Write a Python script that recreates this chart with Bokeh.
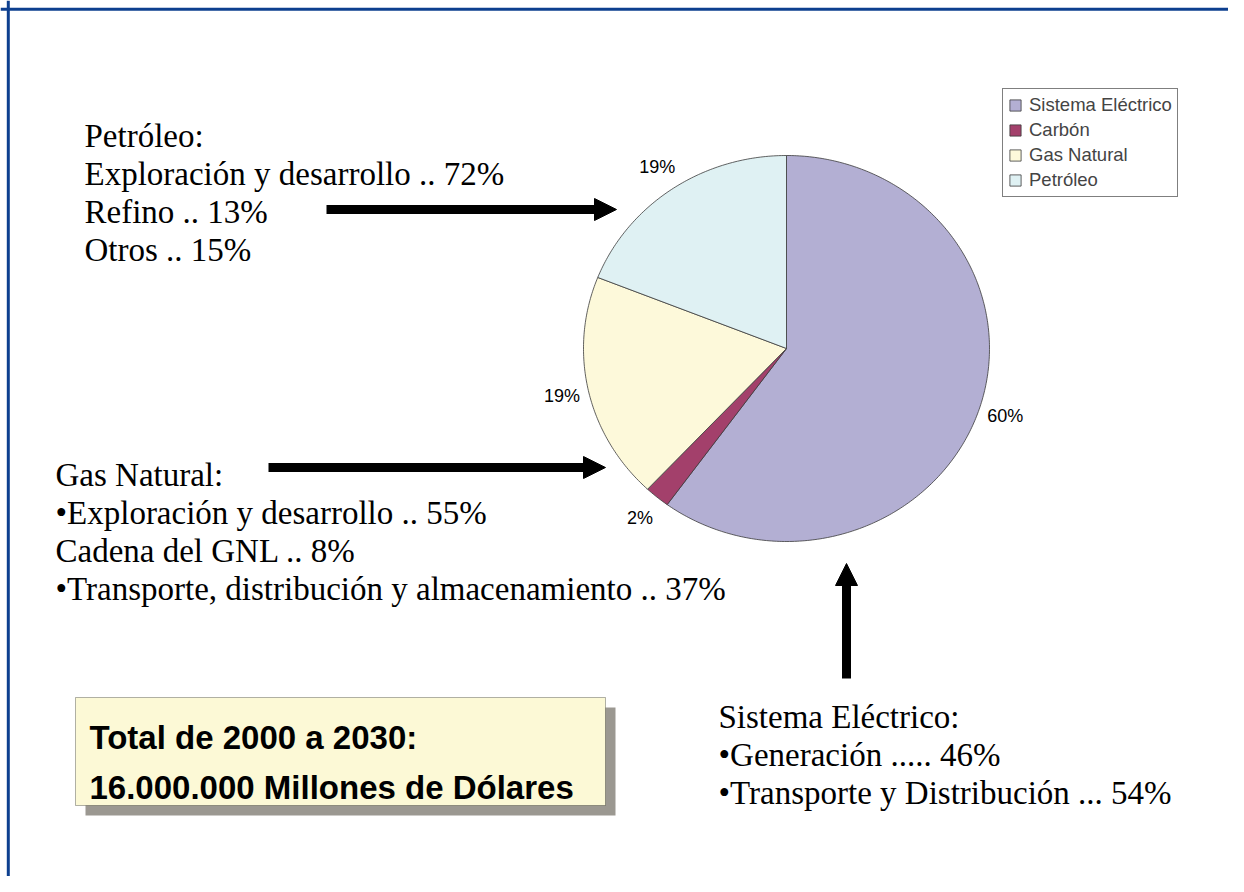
import numpy as np
from bokeh.plotting import figure
from bokeh.models import Range1d, Arrow, NormalHead, Span, BoxAnnotation, Legend, LegendItem, ColumnDataSource
from bokeh.core.properties import value
from bokeh.embed import file_html
from bokeh.resources import INLINE

# ---------------- data ----------------
categories = ["Sistema Eléctrico", "Carbón", "Gas Natural", "Petróleo"]
shares = [60, 2, 19, 19]
slice_colors = ["#B3AFD3", "#A3406B", "#FDF9DA", "#DFF1F3"]

petroleo_lines = ["Petróleo:", "Exploración y desarrollo .. 72%", "Refino .. 13%", "Otros .. 15%"]
gas_lines = ["Gas Natural:", "•Exploración y desarrollo .. 55%", "Cadena del GNL .. 8%",
             "•Transporte, distribución y almacenamiento .. 37%"]
sistema_lines = ["Sistema Eléctrico:", "•Generación ..... 46%", "•Transporte y Distribución ... 54%"]
total_lines = ["Total de 2000 a 2030:", "16.000.000 Millones de Dólares"]

# ---------------- figure (data units == picture pixels) ----------------
W, H = 1228, 876
p = figure(width=W, height=H, x_range=Range1d(0, W), y_range=Range1d(H, 0),
           output_backend="svg", toolbar_location=None, x_axis_type=None, y_axis_type=None,
           min_border=0)
p.outline_line_color = None
p.background_fill_color = "white"
p.border_fill_color = "white"

# outer frame (only left and top edges visible)
p.add_layout(Span(location=7.8, dimension="height", line_color="#0D3F8F", line_width=3))
p.add_layout(Span(location=8.8, dimension="width", line_color="#0D3F8F", line_width=3))

# ---------------- pie (elliptical) ----------------
cx, cy, rx, ry = 786, 348, 203, 193
frac = np.array(shares, dtype=float) / sum(shares)
edges = np.concatenate([[0.0], np.cumsum(frac)])
xs, ys, lx, ly = [], [], [], []
for a, b in zip(edges[:-1], edges[1:]):
    n = max(int((b - a) * 500), 10)
    t = np.radians(90 - 360 * np.linspace(a, b, n))
    xs.append(np.concatenate([[cx], cx + rx * np.cos(t)]).tolist())
    ys.append(np.concatenate([[cy], cy - ry * np.sin(t)]).tolist())
    tm = np.radians(90 - 360 * (a + b) / 2)
    lx.append(cx + (rx + 27) * np.cos(tm))
    ly.append(cy - (ry + 27) * np.sin(tm))

src = ColumnDataSource(dict(xs=xs, ys=ys, color=slice_colors, cat=categories))
pie = p.patches("xs", "ys", source=src, fill_color="color", line_color="#3A3A3A", line_width=0.8)

p.text(x=lx, y=ly, text=[f"{v}%" for v in shares], text_font=value("Liberation Sans"),
       text_font_size="18px", text_align="center", text_baseline="middle", text_color="black")

legend = Legend(items=[LegendItem(label=c, renderers=[pie], index=i) for i, c in enumerate(categories)],
                location=(1002, H - 197), orientation="vertical",
                glyph_width=14, glyph_height=14, label_height=22, spacing=3, padding=5,
                label_standoff=7, margin=0,
                label_text_font="Liberation Sans", label_text_font_size="18.5px",
                border_line_color="black", border_line_width=1, background_fill_color="white",
                background_fill_alpha=1)
p.add_layout(legend)

# ---------------- arrows ----------------
for (x0, y0, x1, y1) in [(326, 209, 616, 209), (268, 467, 605, 467), (846, 678, 846, 563)]:
    p.add_layout(Arrow(x_start=x0, y_start=y0, x_end=x1, y_end=y1, line_width=9, line_color="black",
                       end=NormalHead(size=22, fill_color="black", line_color="black", line_width=1)))

# ---------------- text blocks ----------------
def block(lines, x, y0, dy, size, font, style="normal"):
    p.text(x=[x] * len(lines), y=[y0 + i * dy for i in range(len(lines))], text=lines,
           text_font=value(font), text_font_size=size, text_font_style=style,
           text_baseline="alphabetic", text_align="left", text_color="black")

block(petroleo_lines, 84, 135, 38, "33px", "Liberation Serif")
block(gas_lines, 55, 474, 38, "33px", "Liberation Serif")
block(sistema_lines, 718, 716, 38, "33px", "Liberation Serif")

# total box with shadow (drawn beneath the text)
p.add_layout(BoxAnnotation(left=85, right=615, top=707, bottom=815, fill_color="#9B9891",
                           fill_alpha=1, line_color=None, level="underlay"))
p.add_layout(BoxAnnotation(left=75, right=605, top=697, bottom=805, fill_color="#FCF9D6",
                           fill_alpha=1, line_color="black", line_width=1, level="underlay"))
block(total_lines, 89, 737, 50, "33px", "Liberation Sans", "bold")

open("out.html", "w").write(file_html(p, INLINE))
